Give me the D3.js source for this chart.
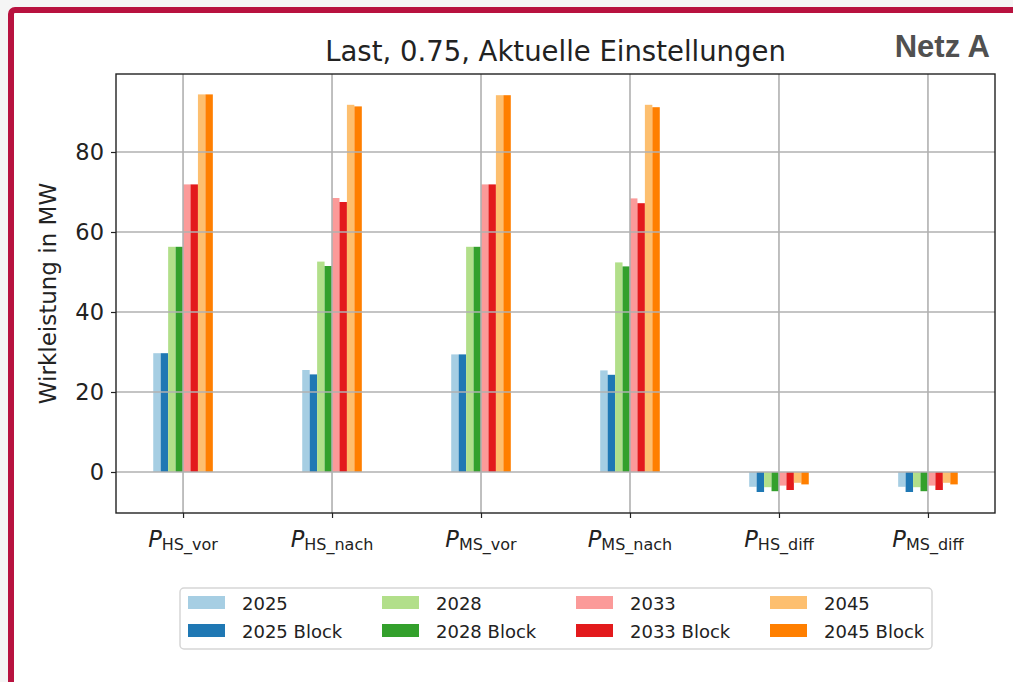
<!DOCTYPE html>
<html>
<head>
<meta charset="utf-8">
<script src="https://cdn.jsdelivr.net/npm/d3@7"></script>
<style>
  html, body { margin:0; padding:0; background:#f5f5f5; }
  svg { display:block; font-family:"DejaVu Sans", sans-serif; }
</style>
</head>
<body>
<svg id="chart"></svg>
<script>
const W = 1013, H = 682;

// categories (subscript after the italic P)
const CATS = ['HS_vor', 'HS_nach', 'MS_vor', 'MS_nach', 'HS_diff', 'MS_diff'];
const SERIES = ['2025', '2025 Block', '2028', '2028 Block', '2033', '2033 Block', '2045', '2045 Block'];
const COLORS = ['#a6cee3', '#1f78b4', '#b2df8a', '#33a02c', '#fb9a99', '#e31a1c', '#fdbf6f', '#ff7f00'];

// values per category, in series order
const V_HS_vor  = [29.7, 29.7, 56.3, 56.3, 71.9, 71.9, 94.4, 94.4];
const V_HS_nach = [25.5, 24.4, 52.6, 51.5, 68.5, 67.5, 91.8, 91.4];
const V_MS_vor  = [29.4, 29.4, 56.3, 56.3, 71.9, 71.9, 94.2, 94.2];
const V_MS_nach = [25.4, 24.3, 52.4, 51.4, 68.4, 67.2, 91.8, 91.2];
const V_HS_diff = [-3.7, -5.0, -3.8, -4.8, -3.4, -4.5, -2.7, -3.1];
const V_MS_diff = [-3.7, -5.0, -3.8, -4.8, -3.4, -4.5, -2.7, -3.1];
const VALUES = [V_HS_vor, V_HS_nach, V_MS_vor, V_MS_nach, V_HS_diff, V_MS_diff];

const Y_TICKS = [0, 20, 40, 60, 80];

const svg = d3.select('#chart').attr('width', W).attr('height', H);

// card with crimson frame
svg.append('rect').attr('x', 11).attr('y', 10).attr('width', W + 20).attr('height', H + 20)
  .attr('rx', 4).attr('fill', '#fff').attr('stroke', '#b8123f').attr('stroke-width', 6);

const M = {l:116, r:995, t:74, b:513};

const x = d3.scaleLinear().domain([-0.45, CATS.length - 0.55]).range([M.l, M.r]);
const y = d3.scaleLinear().domain([-10.25, 99.5]).range([M.b, M.t]);
const barW = 0.4 / SERIES.length;

const plot = svg.append('g');

// bars
CATS.forEach((c, ci) => {
  plot.append('g').selectAll('rect').data(VALUES[ci]).join('rect')
    .attr('x', (d, i) => x(ci - 0.2 + i * barW))
    .attr('width', x(barW) - x(0))
    .attr('y', d => y(Math.max(0, d)))
    .attr('height', d => Math.abs(y(d) - y(0)))
    .attr('fill', (d, i) => COLORS[i]);
});

// grid on top of bars
const grid = svg.append('g').attr('stroke', '#b0b0b0').attr('stroke-width', 1.6);
Y_TICKS.forEach(t => grid.append('line').attr('x1', M.l).attr('x2', M.r).attr('y1', y(t)).attr('y2', y(t)));
CATS.forEach((c, i) => grid.append('line').attr('x1', x(i)).attr('x2', x(i)).attr('y1', M.t).attr('y2', M.b));

// axes
const yAxis = svg.append('g').attr('transform', `translate(${M.l},0)`)
  .call(d3.axisLeft(y).tickValues(Y_TICKS).tickSize(5).tickPadding(7));
const xAxis = svg.append('g').attr('transform', `translate(0,${M.b})`)
  .call(d3.axisBottom(x).tickValues(d3.range(CATS.length)).tickSize(5).tickFormat(''));
[yAxis, xAxis].forEach(a => {
  a.select('.domain').remove();
  a.selectAll('line').attr('stroke', '#222').attr('stroke-width', 1.2);
  a.selectAll('text').attr('font-size', 22.5).attr('fill', '#222').attr('font-family', '"DejaVu Sans", sans-serif');
});

// x labels with italic P and subscript
CATS.forEach((c, i) => {
  const t = svg.append('text').attr('x', x(i)).attr('y', 547).attr('text-anchor', 'middle').attr('fill', '#222');
  t.append('tspan').attr('font-style', 'italic').attr('font-size', 22.5).text('P');
  t.append('tspan').attr('font-size', 16).attr('dy', 3).text(c);
});

// frame
svg.append('rect').attr('x', M.l).attr('y', M.t).attr('width', M.r - M.l).attr('height', M.b - M.t)
  .attr('fill', 'none').attr('stroke', '#222').attr('stroke-width', 1.4);

// title
svg.append('text').attr('x', (M.l + M.r) / 2).attr('y', 61).attr('text-anchor', 'middle')
  .attr('font-size', 27.5).attr('fill', '#222').text('Last, 0.75, Aktuelle Einstellungen');

svg.append('text').attr('x', 990).attr('y', 57).attr('text-anchor', 'end')
  .attr('font-family', '"Liberation Sans", Arial, sans-serif').attr('font-weight', 'bold')
  .attr('font-size', 31).attr('fill', '#505050').text('Netz A');

// y label
svg.append('text').attr('transform', `translate(56,${(M.t + M.b) / 2}) rotate(-90)`)
  .attr('text-anchor', 'middle').attr('font-size', 23).attr('fill', '#222').text('Wirkleistung in MW');

// legend
const lg = svg.append('g');
lg.append('rect').attr('x', 180).attr('y', 588).attr('width', 752).attr('height', 61).attr('rx', 4)
  .attr('fill', '#fff').attr('stroke', '#d6d6d6').attr('stroke-width', 1.5);
const colX = [188, 382, 576, 770];
SERIES.forEach((s, i) => {
  const col = Math.floor(i / 2), row = i % 2;
  const cy = 603 + row * 28;
  lg.append('rect').attr('x', colX[col]).attr('y', cy - 7).attr('width', 37).attr('height', 13).attr('fill', COLORS[i]);
  lg.append('text').attr('x', colX[col] + 54).attr('y', cy + 7).attr('font-size', 18).attr('fill', '#222').text(s);
});
</script>
</body>
</html>
